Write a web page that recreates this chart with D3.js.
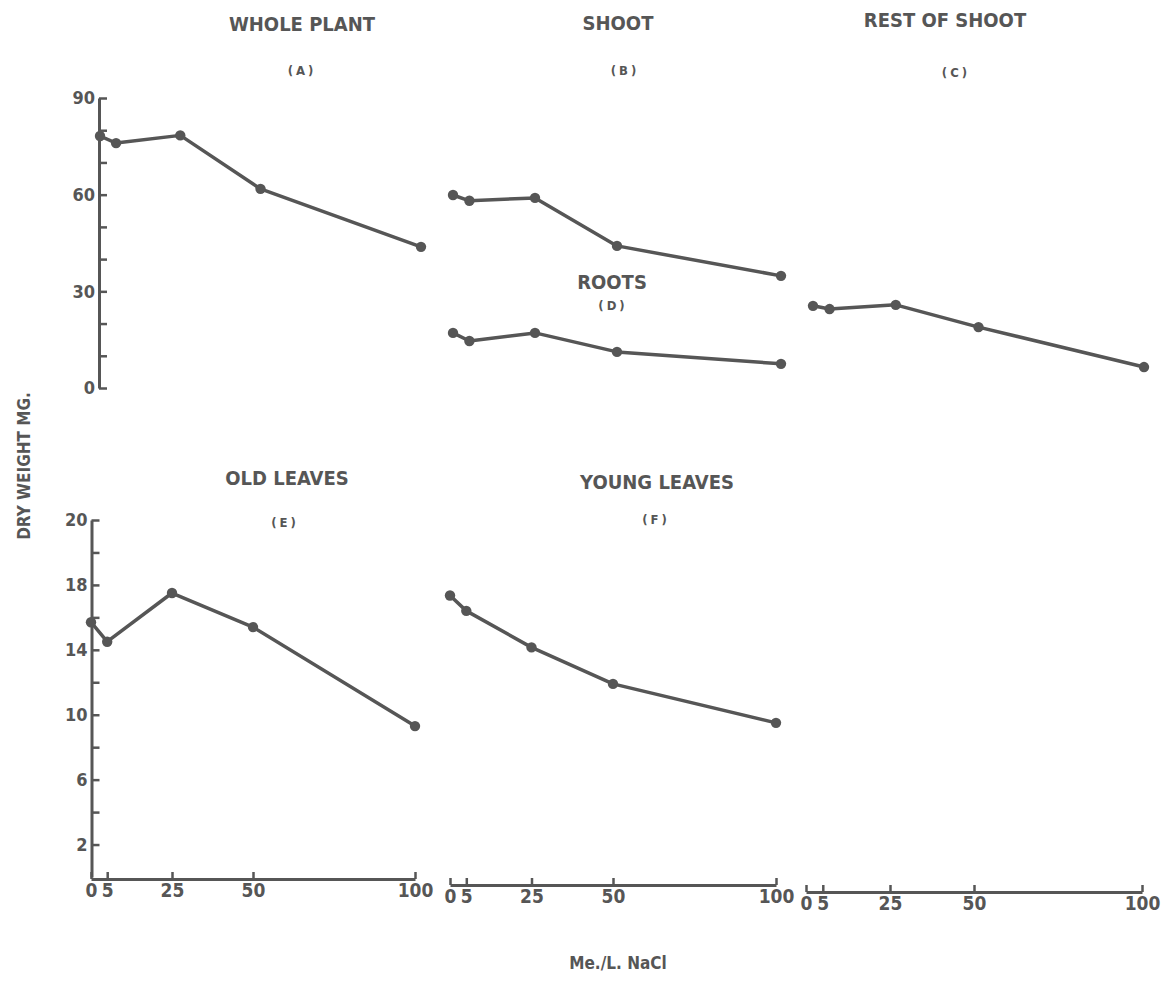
<!DOCTYPE html>
<html><head><meta charset="utf-8">
<script src="https://cdn.jsdelivr.net/npm/d3@7"></script>
<style>body{margin:0;background:#fff}svg text{font-family:"Liberation Sans Narrow","DejaVu Sans Condensed","Arial Narrow",sans-serif;font-weight:bold;fill:#565656}</style>
</head><body>
<svg id="c" width="1164" height="981"></svg>
<script>
const concentrations = [0, 5, 25, 50, 100];
const xTickLabels = ["0", "5", "25", "50", "100"];
const wholePlant  = [78.2, 76.0, 78.4, 61.8, 43.8];
const shoot       = [59.9, 58.1, 59.0, 44.1, 34.8];
const roots       = [17.1, 14.6, 17.1, 11.2, 7.5];
const restOfShoot = [25.5, 24.5, 25.8, 18.9, 6.5];
const oldLeaves   = [15.7, 14.5, 17.5, 15.4, 9.3];
const youngLeaves = [17.35, 16.4, 14.15, 11.9, 9.5];
const topYTicks  = [0, 10, 20, 30, 40, 50, 60, 70, 80, 90];
const topYLabels = ["0", "", "", "30", "", "", "60", "", "", "90"];
const botYTicks  = [2, 4, 6, 8, 10, 12, 14, 16, 18, 20, 22];
const botYLabels = ["2", "", "6", "", "10", "", "14", "", "18", "", "20"];

const ink = "#565656";
const svg = d3.select("#c");

const yTop = d3.scaleLinear([0, 90], [388, 98]);
const yBot = d3.scaleLinear([0, 22], [877, 520]);

const panels = [
  {title: "WHOLE PLANT", letter: "(A)", vals: wholePlant, xr: [100, 421], y: yTop, tx: 302, ty: 31, lx: 302, ly: 75},
  {title: "SHOOT", letter: "(B)", vals: shoot, xr: [453, 781], y: yTop, tx: 618, ty: 30, lx: 625, ly: 75},
  {title: "ROOTS", letter: "(D)", vals: roots, xr: [453, 781], y: yTop, tx: 612, ty: 289, lx: 613, ly: 310},
  {title: "REST OF SHOOT", letter: "(C)", vals: restOfShoot, xr: [813, 1144], y: yTop, tx: 945, ty: 27, lx: 956, ly: 77},
  {title: "OLD LEAVES", letter: "(E)", vals: oldLeaves, xr: [91, 415], y: yBot, tx: 287, ty: 485, lx: 285, ly: 527},
  {title: "YOUNG LEAVES", letter: "(F)", vals: youngLeaves, xr: [450, 776], y: yBot, tx: 657, ty: 489, lx: 656, ly: 524}
];

panels.forEach(p => {
  const x = d3.scaleLinear([0, 100], p.xr);
  const pts = concentrations.map((c, i) => [c, p.vals[i]]);
  svg.append("path").datum(pts)
    .attr("d", d3.line().x(d => x(d[0])).y(d => p.y(d[1])))
    .attr("fill", "none").attr("stroke", ink).attr("stroke-width", 3.5)
    .attr("stroke-linejoin", "round").attr("stroke-linecap", "round");
  svg.selectAll(null).data(pts).enter().append("circle")
    .attr("cx", d => x(d[0])).attr("cy", d => p.y(d[1])).attr("r", 5.2).attr("fill", ink);
  svg.append("text").attr("x", p.tx).attr("y", p.ty).attr("text-anchor", "middle")
    .attr("font-size", 20).text(p.title);
  svg.append("text").attr("x", p.lx).attr("y", p.ly).attr("text-anchor", "middle")
    .attr("font-size", 13).attr("letter-spacing", 3).text(p.letter);
});

function styleAxis(g, fs) {
  g.selectAll("path.domain").attr("stroke", ink).attr("stroke-width", 3);
  g.selectAll(".tick line").attr("stroke", ink).attr("stroke-width", 2.5);
  g.selectAll(".tick text").attr("font-size", fs).attr("fill", ink)
    .style("font-family", null);
  g.attr("font-family", null);
}

// Y axes
const gA = svg.append("g").attr("transform", "translate(99,0)")
  .call(d3.axisLeft(yTop).tickValues(topYTicks).tickFormat((d, i) => topYLabels[i])
    .tickSizeInner(-8).tickSizeOuter(0).tickPadding(4));
styleAxis(gA, 18);
const gE = svg.append("g").attr("transform", "translate(91.5,0)")
  .call(d3.axisLeft(yBot).tickValues(botYTicks).tickFormat((d, i) => botYLabels[i])
    .tickSizeInner(-8).tickSizeOuter(0).tickPadding(4));
styleAxis(gE, 18);

// X axes
[[ [91, 415], 879 ], [ [450, 776], 885 ], [ [806, 1142], 892 ]].forEach(([r, yy]) => {
  const x = d3.scaleLinear([0, 100], r);
  const g = svg.append("g").attr("transform", `translate(0,${yy})`)
    .call(d3.axisBottom(x).tickValues(concentrations).tickFormat((d, i) => xTickLabels[i])
      .tickSizeInner(-7).tickSizeOuter(0).tickPadding(5));
  styleAxis(g, 19);
});

svg.append("text").attr("transform", "translate(30,466) rotate(-90)")
  .attr("text-anchor", "middle").attr("font-size", 17).text("DRY WEIGHT MG.");
svg.append("text").attr("x", 618).attr("y", 969).attr("text-anchor", "middle")
  .attr("font-size", 17).text("Me./L. NaCl");
</script>
</body></html>
